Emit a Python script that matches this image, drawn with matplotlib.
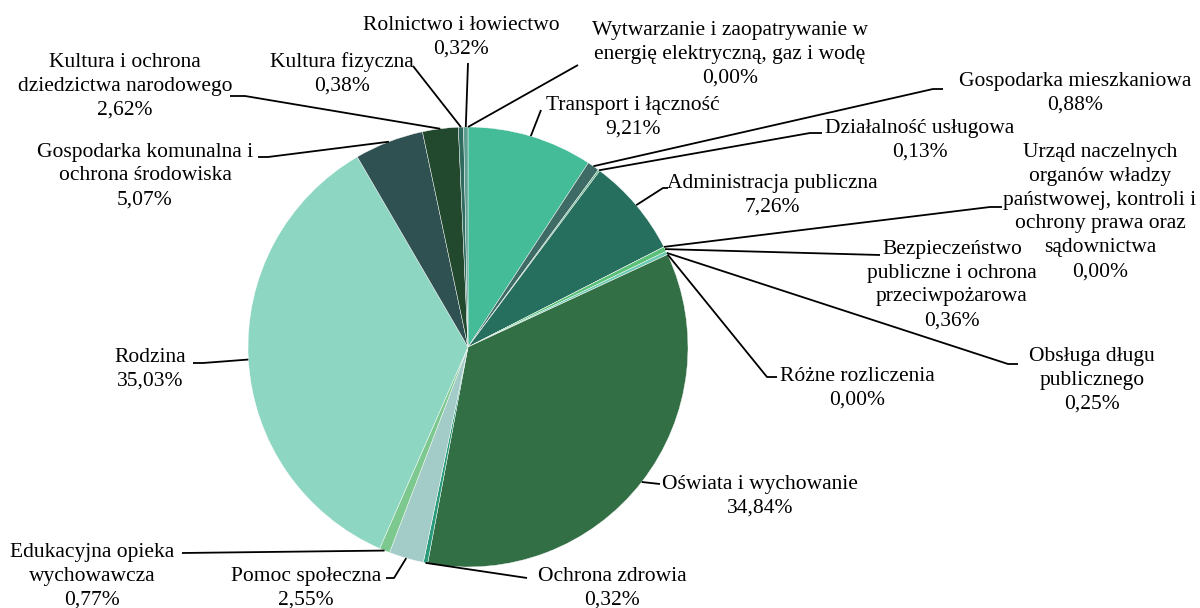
import matplotlib
matplotlib.use("Agg")
import matplotlib.pyplot as plt
import numpy as np

# Data (clockwise from 12 o'clock)
categories = [
    "Wytwarzanie i zaopatrywanie w\nenergię elektryczną, gaz i wodę",
    "Transport i łączność",
    "Gospodarka mieszkaniowa",
    "Działalność usługowa",
    "Administracja publiczna",
    "Urząd naczelnych\norganów władzy\npaństwowej, kontroli i\nochrony prawa oraz\nsądownictwa",
    "Bezpieczeństwo\npubliczne i ochrona\nprzeciwpożarowa",
    "Obsługa długu\npublicznego",
    "Różne rozliczenia",
    "Oświata i wychowanie",
    "Ochrona zdrowia",
    "Pomoc społeczna",
    "Edukacyjna opieka\nwychowawcza",
    "Rodzina",
    "Gospodarka komunalna i\nochrona środowiska",
    "Kultura i ochrona\ndziedzictwa narodowego",
    "Kultura fizyczna",
    "Rolnictwo i łowiectwo",
]
values = [0.00, 9.21, 0.88, 0.13, 7.26, 0.00, 0.36, 0.25, 0.00, 34.84,
          0.32, 2.55, 0.77, 35.03, 5.07, 2.62, 0.38, 0.32]
colors = ["#4a9a86", "#45BC98", "#3E6B66", "#6DB48F", "#266E5D", "#4a9a86",
          "#5BBF78", "#6ACAB2", "#4a9a86", "#336F45", "#2B9C7B", "#A3CBC7",
          "#7DC88F", "#8DD6C2", "#2F5152", "#22482D", "#2F6B5F", "#5E9E93"]

# Layout (image pixel coords): label centres and leader-line anchor points
label_pos = [(730, 54), (633, 117), (1075, 93), (920, 140), (772, 195),
             (1100, 212), (952, 285), (1092, 380), (857, 388), (760, 496),
             (612, 588), (306, 588), (92, 576), (150, 369), (145, 176),
             (125, 86), (342, 74), (461, 37)]
leader = [[(578, 65)], [(541, 110)], [(943, 89), (933, 89)], [(822, 133), (810, 133)],
          [(668, 188), (663, 188)], [(1002, 207), (990, 207)], [(880, 255)],
          [(1018, 364), (1008, 364)], [(777, 377), (767, 377)], [(660, 484)],
          [(527, 578)], [(386, 578), (394, 578)], [(182, 553)], [(193, 363), (203, 363)],
          [(258, 157), (268, 157)], [(230, 96), (245, 96)], [(413, 66)], [(468, 63)]]

W, H = 1200, 608
CX, CY, R = 468, 347, 220

plt.rcParams['font.family'] = ['Liberation Serif', 'DejaVu Serif']
fig = plt.figure(figsize=(W / 100, H / 100), dpi=100)
ax = fig.add_axes([0, 0, 1, 1])

def fy(y):
    return H - y

ax.pie(values, colors=colors, startangle=90, counterclock=False,
       center=(CX, fy(CY)), radius=R, frame=True,
       wedgeprops=dict(edgecolor='white', linewidth=0.3))
ax.set_xlim(0, W)
ax.set_ylim(0, H)
ax.set_aspect('auto')
ax.axis('off')

total = sum(values)
cum = 0.0
for name, v, (tx, ty), pts in zip(categories, values, label_pos, leader):
    mid = (cum + v / 2) / total * 360.0
    cum += v
    ang = np.deg2rad(90 - mid)
    ex = CX + R * np.cos(ang)
    ey = fy(CY) + R * np.sin(ang)
    xs = [p[0] for p in pts] + [ex]
    ys = [fy(p[1]) for p in pts] + [ey]
    ax.plot(xs, ys, color='black', lw=1.3, solid_capstyle='butt')
    txt = f"{name}\n{v:.2f}%".replace('.', ',')
    ax.text(tx, fy(ty), txt, ha='center', va='center', fontsize=15.5,
            linespacing=1.35, color='black')

fig.savefig('out.png', dpi=100)
